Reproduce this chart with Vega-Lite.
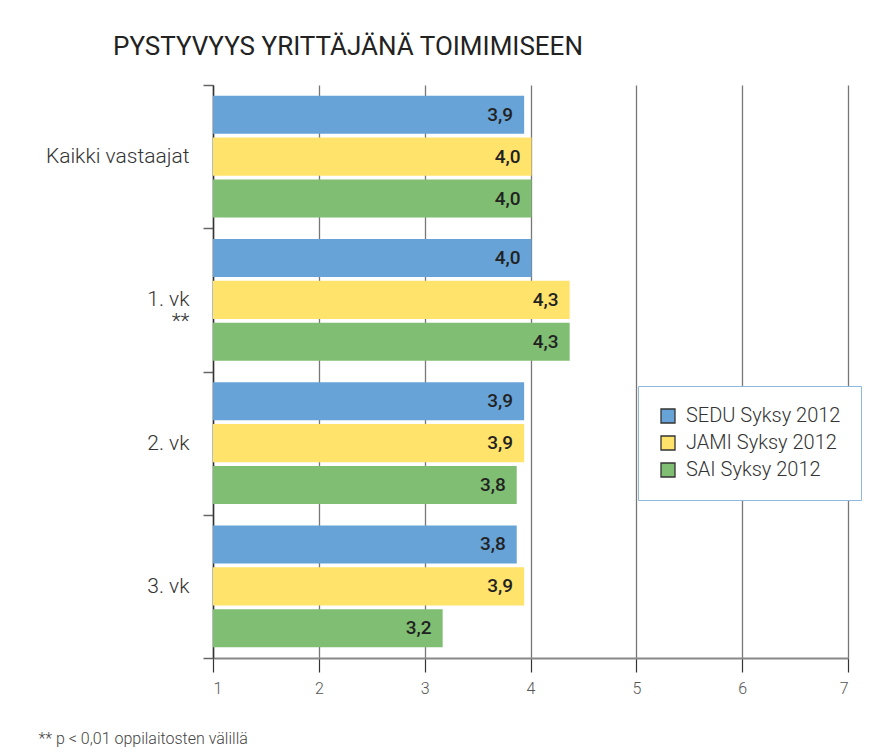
{
  "$schema": "https://vega.github.io/schema/vega-lite/v6.json",
  "autosize": "none",
  "width": 635,
  "height": 573,
  "padding": {"left": 213, "top": 85, "right": 31, "bottom": 94},
  "background": "white",
  "title": {
    "text": "PYSTYVYYS YRITTÄJÄNÄ TOIMIMISEEN",
    "anchor": "start",
    "frame": "group",
    "dx": -100,
    "offset": 14,
    "font": "Roboto",
    "fontSize": 26,
    "fontWeight": 400,
    "color": "#222222"
  },
  "data": {
    "values": [
      {"group": "Kaikki vastaajat", "series": "SEDU Syksy 2012", "value": 3.94, "label": "3,9"},
      {"group": "Kaikki vastaajat", "series": "JAMI Syksy 2012", "value": 4.01, "label": "4,0"},
      {"group": "Kaikki vastaajat", "series": "SAI Syksy 2012", "value": 4.01, "label": "4,0"},
      {"group": "1. vk", "series": "SEDU Syksy 2012", "value": 4.01, "label": "4,0"},
      {"group": "1. vk", "series": "JAMI Syksy 2012", "value": 4.37, "label": "4,3"},
      {"group": "1. vk", "series": "SAI Syksy 2012", "value": 4.37, "label": "4,3"},
      {"group": "2. vk", "series": "SEDU Syksy 2012", "value": 3.94, "label": "3,9"},
      {"group": "2. vk", "series": "JAMI Syksy 2012", "value": 3.94, "label": "3,9"},
      {"group": "2. vk", "series": "SAI Syksy 2012", "value": 3.87, "label": "3,8"},
      {"group": "3. vk", "series": "SEDU Syksy 2012", "value": 3.87, "label": "3,8"},
      {"group": "3. vk", "series": "JAMI Syksy 2012", "value": 3.94, "label": "3,9"},
      {"group": "3. vk", "series": "SAI Syksy 2012", "value": 3.17, "label": "3,2"}
    ]
  },
  "encoding": {
    "y": {
      "field": "group",
      "type": "nominal",
      "sort": ["Kaikki vastaajat", "1. vk", "2. vk", "3. vk"],
      "scale": {"paddingInner": 0, "paddingOuter": 0},
      "axis": {
        "title": null,
        "tickBand": "extent",
        "labelExpr": "datum.label == '1. vk' ? ['1. vk', '**'] : datum.label",
        "labelFont": "Roboto",
        "labelFontSize": 21,
        "labelFontWeight": 300,
        "labelColor": "#333333",
        "labelLineHeight": 22,
        "labelPadding": 14,
        "tickSize": 10,
        "tickColor": "#666666",
        "tickWidth": 1.5,
        "domainColor": "#333333",
        "domainWidth": 1.5,
        "grid": false
      }
    },
    "yOffset": {
      "field": "series",
      "type": "nominal",
      "sort": ["SEDU Syksy 2012", "JAMI Syksy 2012", "SAI Syksy 2012"],
      "scale": {"paddingInner": 0.095, "paddingOuter": 0.253}
    }
  },
  "layer": [
    {
      "mark": {"type": "bar"},
      "encoding": {
        "x": {
          "field": "value",
          "type": "quantitative",
          "scale": {"domain": [1, 7], "zero": false, "nice": false},
          "axis": {
            "values": [1, 2, 3, 4, 5, 6, 7],
            "format": "d",
            "title": "** p < 0,01 oppilaitosten välillä",
            "titleX": -175,
            "titleY": 80,
            "titleAlign": "left",
            "titleBaseline": "middle",
            "titleFont": "Roboto",
            "titleFontSize": 16,
            "titleFontWeight": 300,
            "titleColor": "#444444",
            "labelFont": "Roboto",
            "labelFontSize": 16,
            "labelFontWeight": 300,
            "labelColor": "#555555",
            "labelPadding": 8,
            "tickSize": 14,
            "tickColor": "#333333",
            "tickWidth": 1.2,
            "domainColor": "#888888",
            "domainWidth": 2,
            "grid": true,
            "gridColor": "#777777",
            "gridWidth": 1.3
          }
        },
        "x2": {"datum": 1},
        "color": {
          "field": "series",
          "type": "nominal",
          "scale": {
            "domain": ["SEDU Syksy 2012", "JAMI Syksy 2012", "SAI Syksy 2012"],
            "range": ["#67A3D7", "#FFE36B", "#80BE73"]
          },
          "legend": {
            "title": null,
            "orient": "none",
            "legendX": 425,
            "legendY": 301,
            "direction": "vertical",
            "strokeColor": "#8DB8E0",
            "fillColor": "white",
            "padding": 20,
            "symbolType": "square",
            "symbolSize": 196,
            "symbolStrokeColor": "#333333",
            "symbolStrokeWidth": 1.3,
            "symbolOpacity": 1,
            "labelFont": "Roboto",
            "labelFontSize": 20,
            "labelFontWeight": 300,
            "labelColor": "#333333",
            "labelOffset": 8,
            "rowPadding": 7
          }
        }
      }
    },
    {
      "mark": {
        "type": "text",
        "align": "right",
        "baseline": "middle",
        "dx": -11,
        "font": "Roboto",
        "fontSize": 19,
        "fontWeight": 500,
        "color": "#222222"
      },
      "encoding": {
        "x": {"field": "value", "type": "quantitative"},
        "text": {"field": "label", "type": "nominal"}
      }
    }
  ],
  "config": {
    "view": {"stroke": null}
  }
}
